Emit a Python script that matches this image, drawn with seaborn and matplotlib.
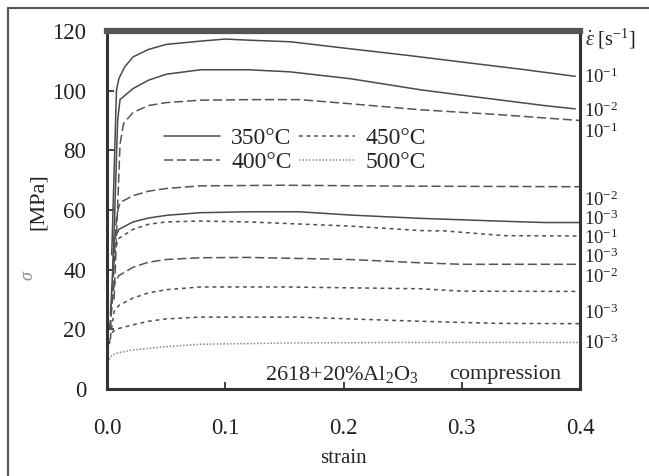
import matplotlib
matplotlib.use('Agg')
import matplotlib.pyplot as plt
import matplotlib.patches as mpatches
from matplotlib.lines import Line2D
import seaborn as sns
import pandas as pd

# stress-strain curves (strain, stress MPa)
strain_350_1 = [0.004, 0.008, 0.010, 0.015, 0.022, 0.035, 0.050, 0.079, 0.100, 0.121, 0.155, 0.200, 0.257, 0.300, 0.350, 0.396]
stress_350_1 = [45, 100, 104, 108, 111.3, 113.8, 115.5, 116.6, 117.3, 116.9, 116.4, 114.3, 111.7, 109.6, 107.2, 104.8]
strain_350_2 = [0.005, 0.009, 0.011, 0.022, 0.035, 0.050, 0.079, 0.120, 0.155, 0.206, 0.265, 0.300, 0.370, 0.396]
stress_350_2 = [40, 90, 97, 100.7, 103.5, 105.5, 107, 107, 106.3, 104, 100.3, 98.5, 95, 93.9]
strain_400_1 = [0.006, 0.011, 0.014, 0.022, 0.035, 0.050, 0.079, 0.120, 0.163, 0.206, 0.265, 0.330, 0.400]
stress_400_1 = [30, 82, 89, 92.7, 95, 96, 96.8, 97, 97, 95.6, 93.6, 92, 90]
strain_400_2 = [0.003, 0.008, 0.011, 0.022, 0.035, 0.050, 0.079, 0.150, 0.250, 0.400]
stress_400_2 = [20, 58, 62.5, 64.8, 66.3, 67.2, 68.1, 68.3, 68, 67.8]
strain_350_3 = [0.003, 0.006, 0.010, 0.022, 0.035, 0.050, 0.079, 0.120, 0.163, 0.206, 0.265, 0.330, 0.370, 0.400]
stress_350_3 = [25, 50, 53.5, 56, 57.3, 58.2, 59.1, 59.4, 59.4, 58.3, 57.2, 56.3, 55.8, 55.8]
strain_450_1 = [0.003, 0.007, 0.010, 0.022, 0.035, 0.050, 0.079, 0.120, 0.206, 0.265, 0.285, 0.336, 0.400]
stress_450_1 = [25, 47, 50.5, 53.5, 55.2, 56, 56.3, 56, 54.6, 53.1, 53, 51.4, 51.3]
strain_400_3 = [0.002, 0.006, 0.010, 0.022, 0.035, 0.050, 0.079, 0.120, 0.206, 0.265, 0.300, 0.400]
stress_400_3 = [20, 35, 38, 40.8, 42.5, 43.4, 44, 44.1, 43.4, 42.3, 41.8, 41.8]
strain_450_2 = [0.002, 0.006, 0.010, 0.022, 0.035, 0.050, 0.079, 0.150, 0.265, 0.300, 0.400]
stress_450_2 = [15, 26, 28, 30.5, 32.2, 33.3, 34.2, 34.2, 33.6, 32.8, 32.7]
strain_450_3 = [0.000, 0.005, 0.010, 0.022, 0.035, 0.050, 0.079, 0.160, 0.265, 0.330, 0.400]
stress_450_3 = [14, 19.3, 20.3, 21.5, 22.7, 23.5, 24.1, 24.1, 22.7, 22, 21.9]
strain_500_3 = [0.000, 0.004, 0.010, 0.022, 0.050, 0.079, 0.150, 0.250, 0.400]
stress_500_3 = [9, 11.3, 12.2, 13.1, 14.2, 15, 15.4, 15.6, 15.6]

curves = [
    ('350°C', strain_350_1, stress_350_1),
    ('350°C', strain_350_2, stress_350_2),
    ('400°C', strain_400_1, stress_400_1),
    ('400°C', strain_400_2, stress_400_2),
    ('350°C', strain_350_3, stress_350_3),
    ('450°C', strain_450_1, stress_450_1),
    ('400°C', strain_400_3, stress_400_3),
    ('450°C', strain_450_2, stress_450_2),
    ('450°C', strain_450_3, stress_450_3),
    ('500°C', strain_500_3, stress_500_3),
]

# strain-rate labels on the right, top to bottom
rate_labels = ['-1', '-2', '-1', '-2', '-3', '-1', '-3', '-2', '-3', '-3']
rate_label_y = [104.4, 93.0, 86.2, 63.4, 56.8, 50.5, 44.0, 37.6, 25.5, 15.4]

temps = ['350°C', '400°C', '450°C', '500°C']

rows = []
for i, (t, xs, ys) in enumerate(curves):
    for x, y in zip(xs, ys):
        rows.append({'curve': i, 'T': t, 'strain': x, 'stress': y})
df = pd.DataFrame(rows)

sns.set_style('white')
plt.rcParams['font.family'] = ['Liberation Serif', 'DejaVu Serif']
plt.rcParams['mathtext.fontset'] = 'custom'
plt.rcParams['mathtext.rm'] = 'Liberation Serif'
plt.rcParams['mathtext.it'] = 'Liberation Serif:italic'

grey = '#4a4a4a'
dash_map = {'350°C': '', '400°C': (6, 2.5), '450°C': (2.5, 2.5), '500°C': (1, 1.2)}
color_map = {'350°C': grey, '400°C': '#555555', '450°C': '#4f4f4f', '500°C': '#8a8a8a'}

fig = plt.figure(figsize=(6.49, 4.76), dpi=100)
ax = fig.add_axes([107/649, 1 - 389/476, 473/649, 358/476])

for t in temps:
    sub = df[df['T'] == t]
    sns.lineplot(data=sub, x='strain', y='stress', units='curve', estimator=None,
                 style='T', dashes={t: dash_map[t]}, color=color_map[t],
                 linewidth=1.1, legend=False, ax=ax)

ax.set_xlim(0, 0.4)
ax.set_ylim(0, 120)
ax.set_xticks([0.0, 0.1, 0.2, 0.3, 0.4])
ax.set_xticklabels(['0.0', '0.1', '0.2', '0.3', '0.4'])
ax.set_yticks(range(0, 121, 20))
ax.tick_params(axis='both', direction='in', length=5, width=1.2, colors='#222222',
               labelsize=16.5)
ax.tick_params(axis='x', pad=21)
ax.tick_params(axis='y', pad=15, left=True)
ax.tick_params(axis='x', bottom=True)
for s in ['left', 'right', 'bottom']:
    ax.spines[s].set_linewidth(2.2)
    ax.spines[s].set_color('#333333')
ax.spines['top'].set_linewidth(4.5)
ax.spines['top'].set_color('#555555')
ax.set_xlabel('strain', fontsize=15, labelpad=7)
ax.set_ylabel('')

# y label: [MPa] rotated plus a lighter sigma below it
fig.text(38/649, 1 - 202/476, '[MPa]', rotation=90, fontsize=16,
         ha='center', va='center', color='#222222')
fig.text(28/649, 1 - 276/476, 'σ', rotation=90, fontsize=13, style='italic',
         ha='center', va='center', color='#888888')

# strain-rate labels
tr = ax.get_yaxis_transform()
for lab, yv in zip(rate_labels, rate_label_y):
    ax.text(1.008, yv, r'10$^{' + lab + '}$', transform=tr, fontsize=13.5,
            ha='left', va='center', clip_on=False, color='#222222')
ax.text(1.01, 117.3, r'$\dot{\varepsilon}$ [s$^{-1}$]', transform=tr, fontsize=14.5,
        ha='left', va='center', clip_on=False, color='#222222')

ax.text(0.199, 4.8, '2618+20%Al$_2$O$_3$', fontsize=16, ha='center', va='center')
ax.text(0.289, 4.8, 'compression', fontsize=16, ha='left', va='center')

handles = [Line2D([0], [0], color=color_map[t], lw=1.1,
                  linestyle='-' if dash_map[t] == '' else (0, dash_map[t]))
           for t in temps]
ax.legend(handles, temps, ncol=2, frameon=False, fontsize=17,
          loc='upper left', bbox_to_anchor=(0.10, 0.757),
          handlelength=2.4, handletextpad=0.45, columnspacing=0.3,
          labelspacing=0.1, borderaxespad=0)

# outer frame of the picture
fig.patches.append(mpatches.Rectangle((8/649, -0.02), 1.05, 1 - 8/476 + 0.02,
                                      transform=fig.transFigure, fill=False,
                                      edgecolor='#555555', linewidth=1.5))

fig.savefig('out.png', dpi=100)
